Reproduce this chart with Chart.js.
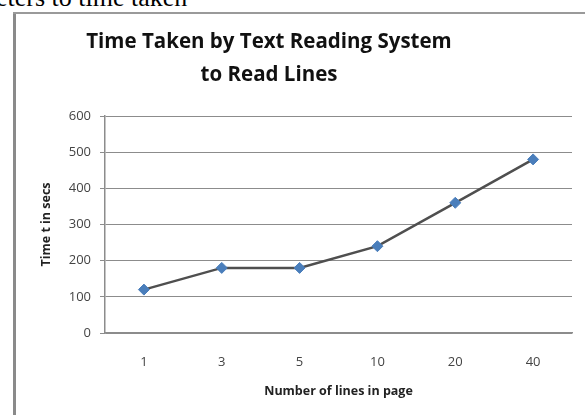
<!DOCTYPE html>
<html>
<head>
<meta charset="utf-8">
<script src="https://cdn.jsdelivr.net/npm/chart.js@4/dist/chart.umd.min.js"></script>
<style>
  html, body { margin: 0; padding: 0; background: #fff; overflow: hidden; }
  body { width: 585px; height: 415px; position: relative; }
  #caption {
    position: absolute; left: -4px; top: -17px;
    font-family: "Liberation Serif", "DejaVu Serif", serif;
    font-size: 26px; color: #000; white-space: nowrap;
  }
  #frameLeft { position: absolute; left: 13px; top: 12px; width: 3px; height: 403px; background: #8a8a8a; }
  #frameTop { position: absolute; left: 13px; top: 12px; width: 572px; height: 2px; background: #9a9a9a; }
  #wrap { position: absolute; left: 0; top: 0; width: 585px; height: 415px; }
</style>
</head>
<body>
<div id="caption">eters to time taken</div>
<div id="frameLeft"></div>
<div id="frameTop"></div>
<div id="wrap"><canvas id="c" width="585" height="415"></canvas></div>
<script>
// Lines per page and the seconds the reader needed for them
const categories = ["1", "3", "5", "10", "20", "40"];
const timeSecs = [120, 180, 180, 240, 360, 480];
const titleLines = ["Time Taken by Text Reading System", "to Read Lines"];
const xTitle = "Number of lines in page";
const yTitle = "Time t in secs";

const FONT = "'Open Sans', Lato, sans-serif";

// Two-line heading centred over the chart block
const headingPlugin = {
  id: "heading",
  afterDraw(chart) {
    const ctx = chart.ctx;
    ctx.save();
    ctx.fillStyle = "#111";
    ctx.font = "bold 20.5px " + FONT;
    ctx.textAlign = "center";
    ctx.textBaseline = "middle";
    titleLines.forEach((t, i) => ctx.fillText(t, 269, 42 + i * 33));
    ctx.restore();
  }
};

new Chart(document.getElementById("c"), {
  type: "line",
  data: {
    labels: categories,
    datasets: [{
      data: timeSecs,
      borderColor: "#4f4f4f",
      borderWidth: 2.5,
      tension: 0,
      pointStyle: "rectRot",
      pointRadius: 5.5,
      pointHoverRadius: 5.5,
      pointBackgroundColor: "#4a7ebb",
      pointBorderColor: "#4a7ebb",
      pointBorderWidth: 1
    }]
  },
  options: {
    responsive: false,
    animation: false,
    devicePixelRatio: 1,
    layout: { padding: { left: 35, right: 13, top: 116, bottom: 12 } },
    plugins: { legend: { display: false }, tooltip: { enabled: false }, title: { display: false } },
    scales: {
      x: {
        offset: true,
        grid: { display: false, drawTicks: false },
        border: { display: true, color: "#8c8c8c", width: 1.5 },
        ticks: { color: "#444", font: { family: FONT, size: 13 }, padding: 21, maxRotation: 0 },
        title: { display: true, text: xTitle, color: "#222", font: { family: FONT, size: 12.5, weight: "bold" }, padding: { top: 8, bottom: 4 } },
        afterFit(s) { s.height = 70; }
      },
      y: {
        min: 0, max: 600,
        grid: { color: "#8c8c8c", lineWidth: 1, tickLength: 5, drawTicks: true },
        border: { display: true, color: "#8c8c8c", width: 1.5 },
        ticks: { stepSize: 100, color: "#444", font: { family: FONT, size: 13 }, padding: 9 },
        title: { display: true, text: yTitle, color: "#222", font: { family: FONT, size: 12.5, weight: "bold" }, padding: 4 },
        afterFit(s) { s.width = 70; }
      }
    }
  },
  plugins: [headingPlugin]
});
</script>
</body>
</html>
